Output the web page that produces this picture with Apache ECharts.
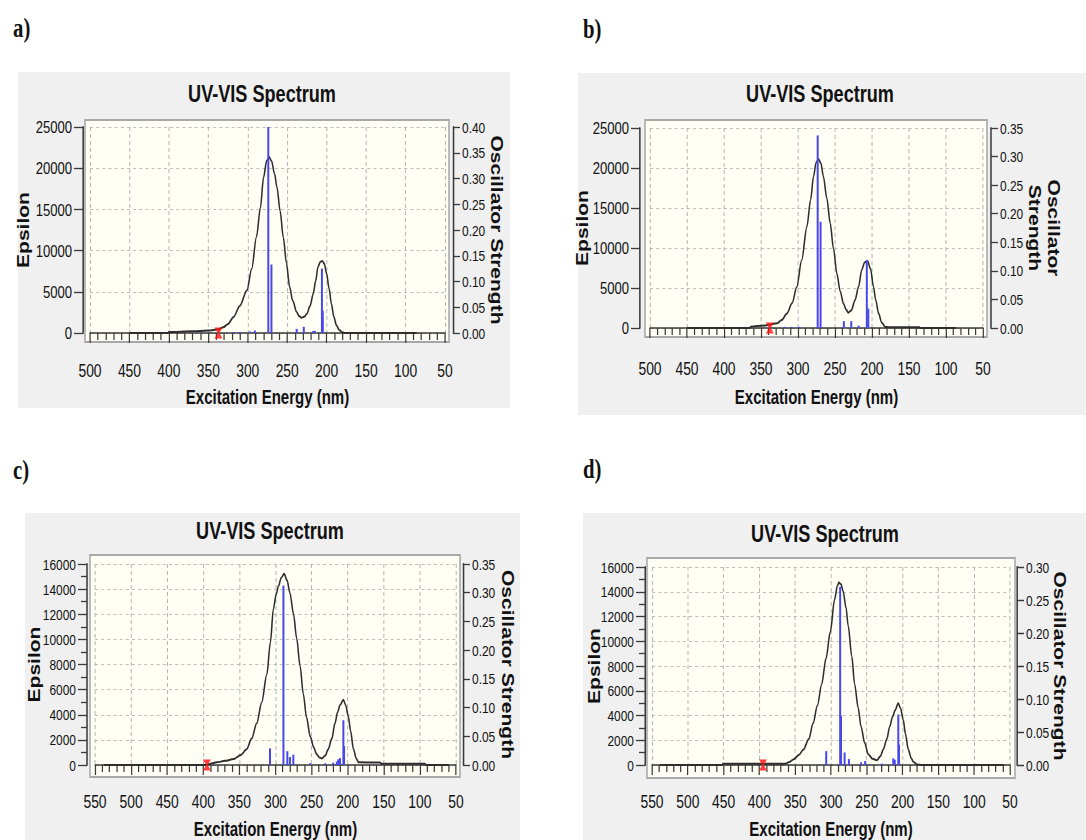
<!DOCTYPE html>
<html><head><meta charset="utf-8">
<script src="https://cdn.jsdelivr.net/npm/echarts@6/dist/echarts.min.js"></script>
<style>
html,body{margin:0;padding:0;background:#fff;overflow:hidden;width:1086px;height:840px}
#c{width:1410px;height:840px;transform:scaleX(0.77);transform-origin:0 0}
</style>
</head><body><div id="c"></div>
<script>
// ---------------- DATA ----------------
const panelLabels = ['a)', 'b)', 'c)', 'd)'];
const chartTitle = 'UV-VIS Spectrum';
const xTitle = 'Excitation Energy (nm)';
const yLeftTitle = 'Epsilon';
const yRightTitles = ['Oscillator Strength', 'Oscillator\nStrength', 'Oscillator Strength', 'Oscillator Strength'];
const xMinNm = [50, 50, 50, 50];
const xMaxNm = [500, 500, 550, 550];
const epsMax = [25000, 25000, 16000, 16000];
const epsStep = [5000, 5000, 2000, 2000];
const oscMax = [0.40, 0.35, 0.35, 0.30];
const oscStep = [0.05, 0.05, 0.05, 0.05];

// Epsilon curves: [wavelength nm, epsilon]
const curveA = [[450,0],[401,0],[400,120],[370,200],[350,300],[337,450],[331,700],[325,1100],[318,1950],[310,3300],[301,5200],[295,7800],[289,11650],[284,15200],[280,18900],[276,20900],[273,21360],[270,20900],[266,19300],[263,17700],[259,14800],[255,11650],[251,8500],[247,5600],[243,3900],[238,2550],[235,2050],[232,1860],[228,2000],[225,2350],[221,3300],[217,4770],[214,6300],[211,8000],[208,8650],[205.5,8740],[203,8400],[200,7200],[197,5400],[194,3560],[191,2000],[187.6,930],[184,350],[180,80],[177,0],[120,0],[86,0]];
const curveB = [[450,0],[365,0],[364,170],[345,300],[338,450],[328,600],[322,1000],[315,1800],[308,3100],[301.6,5140],[295,8500],[288,12670],[283,16000],[279,18940],[275.5,20700],[272.3,21110],[269,20600],[265.7,18940],[261,16200],[256.5,13090],[252,9900],[247.5,6810],[243,4600],[238.5,3050],[235,2300],[232,1920],[228,2200],[223,3470],[218,5200],[214,7230],[210,8200],[206,8360],[202,7400],[198,5140],[195,3500],[191,1800],[187,700],[182,125],[178,100],[136,100],[135,0],[86,0]];
const curveC = [[538,0],[396,0],[390,100],[381.5,210],[370,330],[358,470],[348,800],[340,1250],[333,2100],[326,3320],[319,5000],[312,7220],[307,9800],[303,12400],[299,13600],[296,14230],[292,14900],[288,15220],[284,14700],[280,13700],[275,12000],[270.7,10080],[266,7900],[261.5,5660],[257,3800],[252,2290],[247,1400],[243,860],[239,600],[236,520],[231,750],[227,1250],[222,2100],[217.6,3320],[214,4200],[210.7,4750],[206,5190],[203,4800],[199,3840],[196,2700],[192,1250],[188,500],[185,210],[155,200],[154,100],[93,100],[92,0],[60,0]];
const curveD = [[539,0],[452,0],[451,100],[364,100],[358,250],[352,470],[345,800],[338.4,1260],[331,2100],[325,3370],[319,4800],[313,6530],[307,8600],[301,10740],[295,13370],[291,14500],[289,14740],[286,14600],[283,14030],[279,12700],[276,11260],[271,8800],[267,6530],[262,4600],[258,3100],[253,1800],[248,870],[242,500],[236,390],[231,700],[227,1260],[222,2100],[218,3100],[214,3900],[210.5,4420],[206,5000],[203,4600],[199,3630],[196,2500],[192,1260],[188,550],[185,260],[180,50],[173,0],[59,0]];

// Oscillator-strength sticks: [wavelength nm, f]
const sticksA = [[274,0.40],[270,0.133],[318,0.002],[310,0.002],[297,0.003],[291,0.005],[238,0.008],[229,0.012],[217,0.004],[215,0.004],[206,0.125],[205,0.043],[205.5,0.031]];
const sticksB = [[273.4,0.337],[269.5,0.186],[318,0.002],[309,0.002],[298,0.002],[238,0.012],[228,0.012],[218,0.004],[207,0.119],[205,0.034]];
const sticksC = [[289,0.3125],[307.6,0.029],[283.6,0.024],[280,0.014],[275.3,0.018],[252,0.003],[231,0.003],[220,0.004],[215,0.006],[213,0.01],[210.7,0.012],[206,0.078],[205,0.033]];
const sticksD = [[287.2,0.270],[286,0.075],[306.7,0.021],[281,0.019],[275,0.009],[258,0.004],[252.3,0.006],[229,0.002],[213,0.01],[211,0.008],[206,0.0765],[205,0.031]];

// red cursor markers: [wavelength nm, epsilon]
const markerA = [[337,0]];
const markerB = [[338,0]];
const markerC = [[395,0]];
const markerD = [[395,0]];

const curves = [curveA, curveB, curveC, curveD];
const sticks = [sticksA, sticksB, sticksC, sticksD];
const markers = [markerA, markerB, markerC, markerD];

// ---------------- LAYOUT (final screen px; x divided by squeeze S) ----------------
const S = 0.77;
const X = v => v / S;
const FONT = "'Liberation Sans', Arial, sans-serif";
const gridsPx = [[90,127,355,206],[650,128,333,200],[95,564,361,205],[652,567,358,202]];
const frames = [[85,120,364,222],[645,120,342,217],[90,555,370,222],[647,558,368,220]];
const panelBg = [[18,72,492,336],[578,73,508,342],[25,513,495,327],[583,513,503,327]];
const titlePos = [[262,82],[820,82],[270,519],[825,522]];
const labelPos = [[13,29],[583,30],[13,471],[583,470]];
const xOffset = [12, 14, 13, 14];
const xLabelMargin = [16, 17, 14, 13];
const xNameGap = [42, 45, 41, 40];
const yLOffset = [7, 10, 8, 7];
const yLNameGap = [67, 64, 58, 55];
const yROffset = [8, 8, 7, 7];
const yRNameGap = [45, 45, 46, 43];
const yLabelSize = [17, 17, 15.5, 15.5];

const gridOpt = [], xAxes = [], yAxes = [], series = [], titles = [], graphics = [];
const axisCol = '#3a3a3a', txtCol = '#111111';
const hSplit = {show: true, lineStyle: {color: '#b4b4b4', type: [4, 4], width: 1}};
const vSplit = {show: true, lineStyle: {color: '#b4b4b4', type: [4, 3], width: 1.3}};

for (let i = 0; i < 4; i++) {
  const g = gridsPx[i];
  gridOpt.push({show: false, left: X(g[0]), top: g[1], width: X(g[2]), height: g[3]});
  const pb = panelBg[i], fr = frames[i];
  graphics.push({type: 'rect', z: -10, shape: {x: X(pb[0]), y: pb[1], width: X(pb[2]), height: pb[3]}, style: {fill: '#f0f0f0'}, silent: true});
  graphics.push({type: 'rect', z: -9, shape: {x: X(fr[0]), y: fr[1], width: X(fr[2]), height: fr[3]}, style: {fill: '#fffff5', stroke: '#a8a8a8', lineWidth: 2}, silent: true});
  graphics.push({type: 'text', z: 5, left: X(labelPos[i][0]), top: labelPos[i][1] - 14,
    style: {text: panelLabels[i], font: "bold 27px 'Liberation Serif', 'DejaVu Serif', serif", fill: '#111'}});
  titles.push({text: chartTitle, left: X(titlePos[i][0]), top: titlePos[i][1], textAlign: 'center', padding: 0,
    textStyle: {fontFamily: FONT, fontSize: 23.5, fontWeight: 'bold', color: txtCol}});

  xAxes.push({
    gridIndex: i, type: 'value', inverse: true, min: xMinNm[i], max: xMaxNm[i], interval: 50,
    position: 'bottom', offset: xOffset[i], z: 3,
    name: xTitle, nameLocation: 'middle', nameGap: xNameGap[i], nameMoveOverlap: false,
    nameTextStyle: {fontFamily: FONT, fontSize: 19.5, fontWeight: 'bold', color: txtCol},
    axisLine: {show: true, lineStyle: {color: axisCol, width: 1.5}},
    axisTick: {show: true, length: 10, lineStyle: {color: axisCol, width: 1.6}},
    minorTick: {show: true, splitNumber: 5, length: 7, lineStyle: {color: axisCol, width: 1.6}},
    axisLabel: {fontFamily: FONT, fontSize: 18, color: txtCol, margin: xLabelMargin[i]},
    splitLine: vSplit
  });
  yAxes.push({
    gridIndex: i, type: 'value', position: 'left', min: 0, max: epsMax[i], interval: epsStep[i],
    offset: X(yLOffset[i]), z: 3,
    name: yLeftTitle, nameLocation: 'middle', nameRotate: 90, nameGap: yLNameGap[i], nameMoveOverlap: false,
    nameTextStyle: {fontFamily: FONT, fontSize: 21, fontWeight: 'bold', color: txtCol},
    axisLine: {show: true, lineStyle: {color: axisCol, width: 2}},
    axisTick: {show: true, length: X(9), lineStyle: {color: axisCol, width: 1.3}},
    minorTick: {show: i >= 2, splitNumber: 2, length: X(6), lineStyle: {color: axisCol, width: 1.3}},
    axisLabel: {fontFamily: FONT, fontSize: yLabelSize[i], color: txtCol, margin: X(11), formatter: v => String(v)},
    splitLine: hSplit
  });
  yAxes.push({
    gridIndex: i, type: 'value', position: 'right', min: 0, max: oscMax[i], interval: oscStep[i],
    offset: X(yROffset[i]), z: 3,
    name: yRightTitles[i], nameLocation: 'middle', nameRotate: -90, nameGap: yRNameGap[i], nameMoveOverlap: false,
    nameTextStyle: {fontFamily: FONT, fontSize: 21, fontWeight: 'bold', color: txtCol, lineHeight: 24},
    axisLine: {show: true, lineStyle: {color: axisCol, width: 2}},
    axisTick: {show: true, length: X(7), lineStyle: {color: axisCol, width: 1.3}},
    axisLabel: {fontFamily: FONT, fontSize: 15.5, color: txtCol, margin: X(9), formatter: v => v.toFixed(2)},
    splitLine: {show: false}
  });

  series.push({
    type: 'line', xAxisIndex: i, yAxisIndex: 2 * i, data: curves[i], showSymbol: false,
    smooth: 0.3, smoothMonotone: 'x', z: 4,
    lineStyle: {color: '#2e2e2e', width: 2}
  });
  series.push({
    type: 'custom', xAxisIndex: i, yAxisIndex: 2 * i + 1, data: sticks[i], z: 5,
    encode: {x: 0, y: 1},
    renderItem: function (params, api) {
      const x = api.value(0), f = api.value(1);
      const p0 = api.coord([x, 0]), p1 = api.coord([x, f]);
      return {type: 'line', shape: {x1: p0[0], y1: p0[1], x2: p1[0], y2: p1[1]},
        style: {stroke: '#4848ee', lineWidth: 2.6}};
    }
  });
  series.push({
    type: 'scatter', xAxisIndex: i, yAxisIndex: 2 * i, data: markers[i], z: 6,
    symbol: 'path://M0,0 L10,0 L6,5 L10,10 L0,10 L4,5 Z', symbolSize: [X(8), 11],
    itemStyle: {color: '#ff1010'}
  });
}

const chart = echarts.init(document.getElementById('c'), null, {renderer: 'svg'});
chart.setOption({
  backgroundColor: '#ffffff',
  animation: false,
  title: titles,
  grid: gridOpt,
  xAxis: xAxes,
  yAxis: yAxes,
  graphic: {elements: graphics},
  series: series
});
</script>
</body></html>
